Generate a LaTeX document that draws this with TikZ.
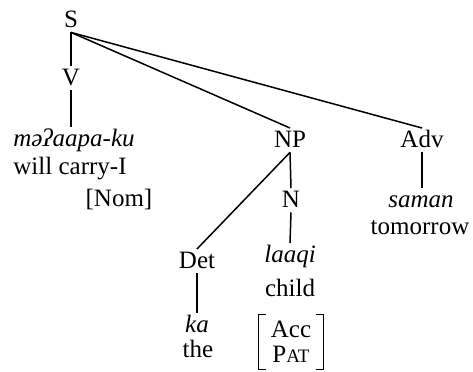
\documentclass[tikz,border=0pt]{standalone}
\usepackage{fontspec}
\setmainfont{Liberation Serif}

\begin{document}
\begin{tikzpicture}[x=0.5pt, y=-0.5pt, font=\fontsize{12.5}{14}\selectfont,
    cat/.style={anchor=base, inner sep=2.5pt, text height=0.68em, text depth=0pt},
    lex/.style={cat, font=\fontsize{12.5}{14}\selectfont\itshape},
    gls/.style={anchor=base, inner sep=0pt},
    edge/.style={line width=0.75pt}]
    \useasboundingbox (0,0) rectangle (473,371);

    % categories
    \node[cat] (S)   at (71,27)   {S};
    \node[cat] (V)   at (71,85)   {V};
    \node[cat] (NP)  at (290,147) {NP};
    \node[cat] (Adv) at (422,147) {Adv};
    \node[cat] (N)   at (291,207) {N};
    \node[cat] (Det) at (197,268) {Det};

    % words and glosses
    \node[lex] (verb)  at (74,146)  {məʔaapa-ku};
    \node[gls] (vgls)  at (70,174)  {will carry-I};
    \node[gls] (vcase) at (119,206) {[Nom]};
    \node[lex] (adv)   at (421,207) {saman};
    \node[gls] (agls)  at (420,234) {tomorrow};
    \node[lex] (noun)  at (290,262) {laaqi};
    \node[gls] (ngls)  at (290,296) {child};
    \node[lex] (det)   at (197,332) {ka};
    \node[gls] (dgls)  at (198,357) {the};

    % feature bracket
    \node[inner xsep=6pt, inner ysep=3pt, align=center, font=\fontsize{12.5}{12.5}\selectfont]
        (feat) at (291,342) {Acc\\P{\fontsize{9.5}{9.5}\selectfont AT}};
    \draw[line width=0.6pt] ([xshift=4pt]feat.north west) -| (feat.south west) -- ++(4pt,0);
    \draw[line width=0.6pt] ([xshift=-4pt]feat.north east) -| (feat.south east) -- ++(-4pt,0);

    % branches
    \draw[edge] (S.south) -- (V.north);
    \draw[edge] (S.south) -- (NP.north);
    \draw[edge] (S.south) -- (Adv.north);
    \draw[edge] (V.south) -- (V.south |- verb.north);
    \draw[edge] (NP.south) -- (Det.north);
    \draw[edge] (NP.south) -- (N.north);
    \draw[edge] (N.south) -- (noun.north);
    \draw[edge] (Det.south) -- (det.north);
    \draw[edge] (Adv.south) -- (Adv.south |- adv.north);
\end{tikzpicture}
\end{document}
